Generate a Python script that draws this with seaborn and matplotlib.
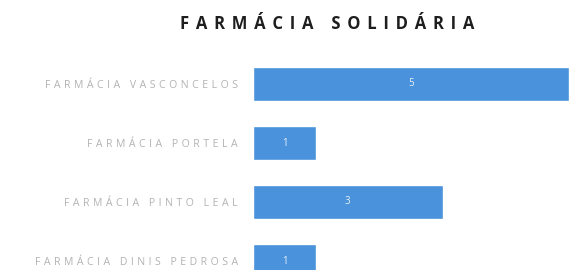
import matplotlib
matplotlib.use("Agg")
import matplotlib.pyplot as plt
import pandas as pd
import seaborn as sns

# Data
farmacias = ["FARMÁCIA VASCONCELOS", "FARMÁCIA PORTELA",
             "FARMÁCIA PINTO LEAL", "FARMÁCIA DINIS PEDROSA"]
valores = [5, 1, 3, 1]
titulo = "FARMÁCIA SOLIDÁRIA"


def spaced(text, sep="\u2009\u2009"):
    # imitate the wide letter spacing of the original
    return sep.join(text)


df = pd.DataFrame({"farmacia": farmacias, "valor": valores})

sns.set_theme(style="white")
plt.rcParams["font.family"] = ["Open Sans", "DejaVu Sans"]

fig = plt.figure(figsize=(5.69, 2.70), dpi=100)
ax = fig.add_axes([253 / 569, -20.5 / 270, 316 / 569, 236 / 270])

sns.barplot(ax=ax, data=df, x="valor", y="farmacia", orient="h",
            color="#4a92dc", saturation=1, width=0.56)

ax.set_xlim(0, 5)
ax.set_ylim(3.5, -0.5)
sns.despine(ax=ax, left=True, bottom=True)
ax.set_xticks([])
ax.set_xlabel("")
ax.set_ylabel("")
ax.set_yticks(range(len(farmacias)))
ax.set_yticklabels([spaced(f) for f in farmacias], fontsize=7.6, color="#b3b3b3")
ax.tick_params(axis="y", length=0, pad=11)

for i, v in enumerate(valores):
    ax.text(v / 2, i, str(v), ha="center", va="center", fontsize=7, color="#e8f0fa")

fig.text(327 / 569, 1 - 24 / 270, spaced(titulo), ha="center", va="center",
         fontsize=12, fontweight="bold", color="#1e1e1e")

plt.savefig("out.png", dpi=100)
